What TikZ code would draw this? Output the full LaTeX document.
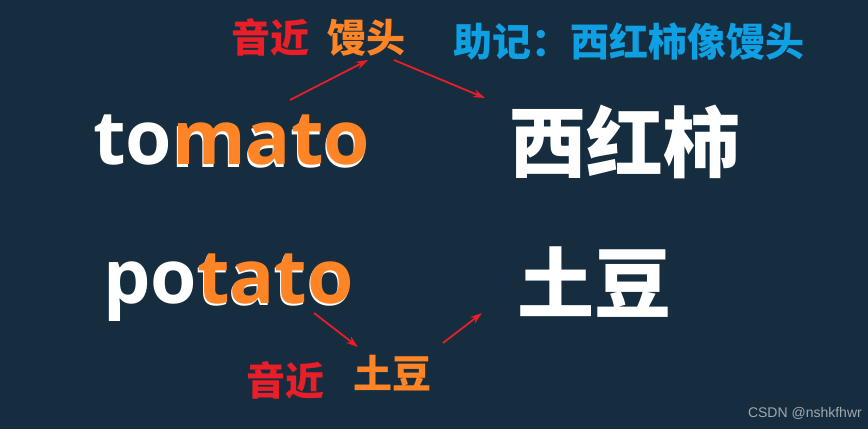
\documentclass[tikz,border=0pt]{standalone}
\usepackage{fontspec}
\setmainfont{Open Sans}
\newfontfamily\cjk{Noto Sans CJK SC}
\newfontfamily\wmfont{Liberation Sans}
\usetikzlibrary{arrows.meta}
\definecolor{bg}{RGB}{21,45,63}
\definecolor{org}{RGB}{255,132,38}
\definecolor{rd}{RGB}{232,30,40}
\definecolor{bl}{RGB}{14,160,226}
\definecolor{wm}{RGB}{160,168,176}
\newcommand{\shadowed}[1]{\rlap{\kern-1pt\raisebox{-2.2pt}{\textcolor{white}{#1}}}\textcolor{org}{#1}}
\tikzset{
  cjktext/.style={inner sep=0pt, anchor=base, font=\cjk\bfseries\fontsize{39}{39}\selectfont},
  bigcjk/.style={inner sep=0pt, anchor=base, text=white, font=\cjk\bfseries\fontsize{77}{77}\selectfont},
  word/.style={inner sep=0pt, anchor=base west, font=\bfseries\fontsize{75}{75}\selectfont},
  redarrow/.style={draw=rd, line width=1.8pt, -{Stealth[length=12pt,width=8pt]}}
}
\begin{document}
\begin{tikzpicture}[x=1pt,y=1pt]
\fill[bg] (0,0) rectangle (868,429);
\useasboundingbox (0,0) rectangle (868,429);
% top labels
\node[cjktext, text=rd] (yin1) at (270,376) {音近};
\node[cjktext, text=org] (mantou) at (366,376) {馒头};
\node[cjktext, text=bl] (zhuji) at (629,372) {助记：西红柿像馒头};
% big Chinese
\node[bigcjk] (xhs) at (625,257) {西红柿};
\node[bigcjk] (td) at (594,117) {土豆};
% english words
\node[word] (tomato) at (93,264) {\textcolor{white}{to}\shadowed{mato}};
\node[word] (potato) at (103,126) {\textcolor{white}{po}\shadowed{tato}};
% bottom labels
\node[cjktext, text=rd] (yin2) at (285,34) {音近};
\node[cjktext, text=org] (tudou) at (392,41) {土豆};
% arrow coordinates
\coordinate (a1s) at (290,329);
\coordinate (a1e) at (368,369);
\coordinate (a2s) at (394,369);
\coordinate (a2e) at (485,331);
\coordinate (a3s) at (314,116);
\coordinate (a3e) at (358,82);
\coordinate (a4s) at (443,86);
\coordinate (a4e) at (482,116);
\draw[redarrow] (a1s) -- (a1e);
\draw[redarrow] (a2s) -- (a2e);
\draw[redarrow] (a3s) -- (a3e);
\draw[redarrow] (a4s) -- (a4e);
% watermark
\node[inner sep=0pt, anchor=base east, text=wm, font=\wmfont\fontsize{14}{14}\selectfont] (wmk) at (862,12) {CSDN @nshkfhwr};
\end{tikzpicture}
\end{document}
